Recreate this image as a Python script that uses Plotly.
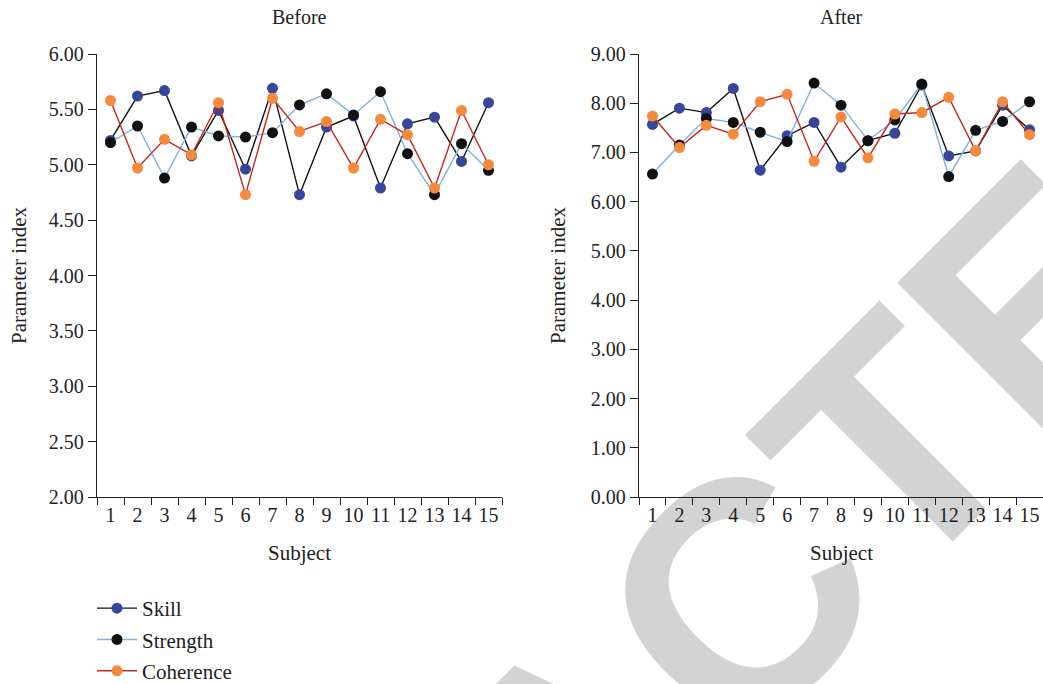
import plotly.graph_objects as go

subjects = [str(i) for i in range(1, 16)]

before_skill = [5.22, 5.62, 5.67, 5.08, 5.49, 4.96, 5.69, 4.73, 5.34, 5.44, 4.79, 5.37, 5.43, 5.03, 5.56]
before_strength = [5.20, 5.35, 4.88, 5.34, 5.26, 5.25, 5.29, 5.54, 5.64, 5.45, 5.66, 5.10, 4.73, 5.19, 4.95]
before_coherence = [5.58, 4.97, 5.23, 5.09, 5.56, 4.73, 5.60, 5.30, 5.39, 4.97, 5.41, 5.27, 4.79, 5.49, 5.00]

after_skill = [7.57, 7.90, 7.81, 8.30, 6.64, 7.34, 7.61, 6.70, 7.24, 7.39, 8.37, 6.93, 7.03, 7.96, 7.46]
after_strength = [6.56, 7.15, 7.69, 7.61, 7.41, 7.22, 8.41, 7.96, 7.24, 7.66, 8.39, 6.51, 7.45, 7.63, 8.03]
after_coherence = [7.74, 7.10, 7.55, 7.37, 8.03, 8.18, 6.82, 7.72, 6.89, 7.78, 7.81, 8.12, 7.03, 8.03, 7.36]

series_names = ["Skill", "Strength", "Coherence"]
line_colors = ["#111111", "#7fb2e0", "#c22a1e"]
marker_colors = ["#36469a", "#111111", "#f68a3c"]

FONT = "Liberation Serif, Times New Roman, serif"
W, H = 1043, 684

fig = go.Figure()

for vals_set, xa, ya, show in [
    ([before_skill, before_strength, before_coherence], "x", "y", True),
    ([after_skill, after_strength, after_coherence], "x2", "y2", False),
]:
    for name, vals, lc, mc in zip(series_names, vals_set, line_colors, marker_colors):
        fig.add_trace(go.Scatter(
            x=subjects, y=vals, name=name, mode="lines+markers",
            line=dict(color=lc, width=1.4),
            marker=dict(color=mc, size=11),
            xaxis=xa, yaxis=ya, showlegend=show, legendgroup=name,
            cliponaxis=False,
        ))

def px_x(p):
    return p / W

def px_y(p):
    return 1 - p / H

ydom = [px_y(497), px_y(54)]
axis_common = dict(
    showline=True, linecolor="#222", linewidth=1.3, showgrid=False, zeroline=False,
    ticks="outside", tickcolor="#222", tickwidth=1.3, automargin=False,
    tickfont=dict(family=FONT, size=20, color="#222"),
)

fig.update_layout(
    template="none",
    width=W, height=H,
    margin=dict(l=0, r=0, t=0, b=0, pad=0, autoexpand=False),
    paper_bgcolor="white", plot_bgcolor="white",
    font=dict(family=FONT, color="#222"),
    xaxis=dict(domain=[px_x(97), px_x(502)], type="category", tickson="boundaries",
               range=[-0.5, 14.5], ticklen=7, tickangle=0, anchor="y", **axis_common),
    yaxis=dict(domain=ydom, range=[2, 6], dtick=0.5, tick0=2, tickformat=".2f",
               ticklen=8, anchor="x", **axis_common),
    xaxis2=dict(domain=[px_x(639), 1.0], type="category", tickson="boundaries",
                range=[-0.5, 14.5], ticklen=7, tickangle=0, anchor="y2", **axis_common),
    yaxis2=dict(domain=ydom, range=[0, 9], dtick=1, tick0=0, tickformat=".2f",
                ticklen=8, anchor="x2", **axis_common),
    legend=dict(x=px_x(92), y=px_y(588), xanchor="left", yanchor="top",
                font=dict(family=FONT, size=21, color="#222"),
                tracegroupgap=1, itemwidth=40, bgcolor="rgba(0,0,0,0)", borderwidth=0),
    showlegend=True,
)

annos = [
    ("Before", 299, 17, 0, 20),
    ("After", 841, 17, 0, 20),
    ("Subject", 299, 553, 0, 21),
    ("Subject", 841, 553, 0, 21),
    ("Parameter index", 19, 275, -90, 21),
    ("Parameter index", 558, 275, -90, 21),
]
for text, x, y, ang, sz in annos:
    fig.add_annotation(text=text, x=px_x(x), y=px_y(y), xref="paper", yref="paper",
                       showarrow=False, textangle=ang, xanchor="center", yanchor="middle",
                       font=dict(family=FONT, size=sz, color="#222"))

# Retraction watermark, drawn beneath the charts
cx, cy = 551, 741
fig.add_shape(
    type="rect", xref="paper", yref="paper",
    x0=px_x(cx - 1), x1=px_x(cx + 1), y0=px_y(cy + 1), y1=px_y(cy - 1),
    line=dict(width=0), fillcolor="rgba(0,0,0,0)", layer="below",
    label=dict(text="RETRACTED", textangle=-45, textposition="middle center",
               font=dict(family="Liberation Sans", size=323, color="#d3d3d3", weight="bold")),
)

fig.write_html(
    "out.html",
    config={"displayModeBar": False},
    post_script="document.body.style.margin='0';document.body.style.overflow='hidden';",
)
